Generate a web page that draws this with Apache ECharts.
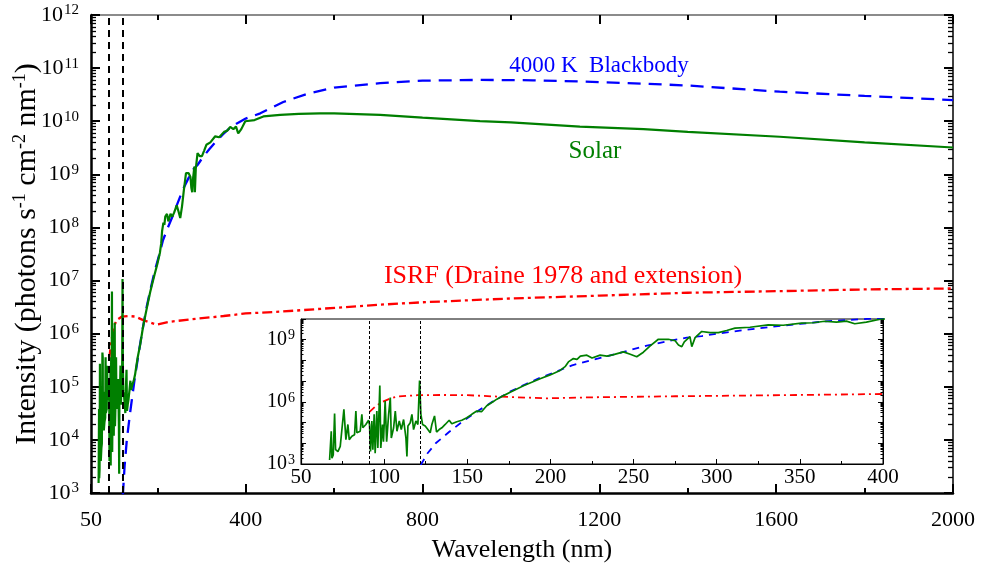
<!DOCTYPE html>
<html>
<head>
<meta charset="utf-8">
<script src="https://cdn.jsdelivr.net/npm/echarts@6/dist/echarts.min.js"></script>
<style>
  html, body { margin: 0; padding: 0; background: #fff; }
  #chart { width: 981px; height: 574px; }
</style>
</head>
<body>
<div id="chart"></div>
<script>
// Solar photon spectrum (nm, photons s^-1 cm^-2 nm^-1)
const solarWl = [67.2, 68.2, 68.6, 69.4, 70.2, 70.8, 72.2, 73.6, 74.6, 75.8, 76.6, 77.0, 78.2, 79.0, 80.6, 82.2,
  83.0, 83.6, 85.6, 86.6, 87.2, 89.0, 90.6, 91.2, 91.8, 92.6, 93.2, 94.0, 94.6, 95.6, 96.2, 97.4, 98.0, 99.0,
  99.6, 100.6, 101.5, 102.7, 103.7, 104.3, 105.7, 106.7, 107.7, 109.1, 110.3, 111.7, 113.1, 113.7, 114.3,
  115.7, 116.7, 117.7, 119.1, 120.3, 121.3, 122.1, 123.1, 124.7, 126.3, 127.7, 128.7, 130.3, 131.5, 133.1,
  134.7, 136.7, 139.1, 140.7, 143.7, 146.7, 149.7, 152.7, 155.7, 158.7, 161.7, 165.7, 167.8, 171.8, 175.8,
  179.8, 183.8, 188.8, 193.8, 199.8, 205.8, 208.8, 210.8, 213.8, 216, 218, 221.9, 225, 229.9, 234, 238, 243.9,
  248, 251.9, 255.9, 260, 264.9, 270.9, 275, 277, 279, 280.5, 283.9, 285, 287, 291, 296, 301, 306, 311, 320,
  331, 340, 351, 358, 365, 372, 378, 383, 390, 399, 420, 440, 478, 520, 568, 600, 704, 800, 930, 1000, 1156,
  1300, 1400, 1608, 1800, 2000];
const solarI = [1.55e3, 3.8e4, 1.9e3, 2.75e3, 2.7e5, 4.9e3, 4.0e3, 7.1e3, 8.5e3, 4.4e5, 3.6e5, 1.5e4, 8.1e4, 1.5e4, 2.2e4, 2.6e4,
  3.6e5, 3.2e4, 3.8e4, 2.5e5, 5.6e4, 8.1e4, 1.3e5, 8.1e4, 4.0e3, 1.2e5, 4.9e3, 2.5e5, 3.3e3, 3.6e5, 5.9e3, 6.2e6, 5.9e3, 8.1e4,
  1.2e4, 1.1e6, 1.2e4, 2.5e5, 1.6e6, 1.8e4, 5.6e4, 3.6e5, 3.8e4, 1.2e5, 4.6e4, 1.4e5, 1.8e4, 2.3e3, 6.8e4,
  9.8e4, 2.5e5, 4.6e4, 1.2e5, 8.1e4, 1.07e7, 2.5e5, 8.1e4, 6.8e4, 4.6e4, 3.2e4, 8.1e4, 2.1e5, 3.5e4, 4.6e4,
  5.6e4, 8.1e4, 1.3e5, 8.7e4, 1.1e5, 1.3e5, 1.7e5, 2.5e5, 3.6e5, 3.4e5, 6.5e5, 1.05e6, 1.35e6, 2.0e6, 2.9e6,
  4.2e6, 6.0e6, 8.9e6, 1.3e7, 2.0e7, 3.3e7, 5.0e7, 8.5e7, 1.23e8, 1.12e8, 1.6e8, 1.8e8, 1.3e8, 1.8e8, 1.6e8, 1.9e8, 2.6e8,
  2.0e8, 1.5e8, 2.5e8, 5.0e8, 1.05e9, 1.05e9, 8.9e8, 5.6e8, 4.6e8, 7.9e8, 1.4e9, 4.6e8, 1.26e9, 2.5e9, 2.2e9, 2.2e9, 2.8e9, 3.6e9, 4.0e9,
  5.2e9, 5.0e9, 6.3e9, 6.6e9, 7.8e9, 7.1e9, 7.9e9, 5.9e9, 7.1e9, 1.0e10, 1.05e10, 1.23e10, 1.32e10, 1.38e10, 1.41e10, 1.41e10, 1.32e10, 1.17e10, 1.0e10, 9.5e9, 7.9e9,
  7.1e9, 6.3e9, 5.1e9, 4.0e9, 3.2e9];

// 4000 K blackbody photon spectrum
const bbWl = [122, 126, 131, 139, 148, 157, 165, 176, 185, 194, 204, 213, 224, 235, 244, 258, 270, 282, 291, 303,
  318, 333, 350, 365, 380, 400, 433, 485, 540, 600, 704, 800, 930, 1050, 1156, 1300, 1400, 1608, 1800, 2000];
const bbI = [8.9e2, 3.2e3, 1.0e4, 3.5e4, 1.26e5, 3.9e5, 1.0e6, 3.2e6, 7.1e6, 1.48e7, 3.0e7, 5.8e7, 1.0e8, 1.66e8, 2.6e8, 5.2e8, 8.3e8, 1.26e9, 1.5e9, 2.1e9,
  3.0e9, 4.2e9, 5.8e9, 7.6e9, 9.1e9, 1.12e10, 1.41e10, 2.3e10, 3.3e10, 4.3e10, 5.2e10, 5.8e10, 6.0e10, 5.9e10, 5.6e10, 5.1e10, 4.7e10, 3.6e10, 3.0e10, 2.5e10];

// Interstellar radiation field (Draine 1978 and extension)
const isrfWl = [91.2, 95, 99, 104, 108, 120, 135, 150, 168, 198, 225, 275, 350, 400, 480, 560, 700, 800, 1000, 1200, 1400, 1600, 1800, 2000];
const isrfI = [3.3e5, 6.3e5, 1.0e6, 1.5e6, 1.8e6, 2.1e6, 2.15e6, 2.1e6, 1.8e6, 1.48e6, 1.66e6, 1.86e6, 2.15e6, 2.4e6, 2.6e6, 2.9e6, 3.5e6, 3.9e6, 4.6e6, 5.2e6, 5.9e6, 6.3e6, 6.8e6, 7.1e6];

// Lyman limit and Lyman-alpha
const edgeWl = [91.2, 121.6];

// Tick values
const mainXMajor = [50, 400, 800, 1200, 1600, 2000];
const mainXMinor = [200, 600, 1000, 1400, 1800];

const FONT = "'Liberation Serif', 'Times New Roman', serif";
const pairs = (xs, ys) => xs.map((x, i) => [x, ys[i]]);

// minor log ticks (2..9 x 10^n) expressed in decades for overlay tick axes
function minorDecades(lo, hi) {
  const out = [];
  for (let n = lo; n < hi; n++) for (let k = 2; k <= 9; k++) out.push(n + Math.log10(k));
  return out;
}

const powRichMain = {
  b: { fontSize: 22, fontFamily: FONT, color: '#000', lineHeight: 24 },
  s: { fontSize: 15, fontFamily: FONT, color: '#000', verticalAlign: 'top', padding: [0, 0, 0, 1] }
};
const powRichInset = {
  b: { fontSize: 20, fontFamily: FONT, color: '#000', lineHeight: 22 },
  s: { fontSize: 14, fontFamily: FONT, color: '#000', verticalAlign: 'top', padding: [0, 0, 0, 1] }
};
const powLabel = v => '{b|10}{s|' + Math.round(Math.log10(v)) + '}';
const plainNum = v => String(v);

const GRID_MAIN = 0, GRID_INSET = 1;

const chart = echarts.init(document.getElementById('chart'), null, { renderer: 'canvas' });

const option = {
  animation: false,
  backgroundColor: '#fff',
  grid: [
    { left: 91, top: 15, width: 862, height: 478, containLabel: false, outerBoundsMode: 'none' },
    { left: 301, top: 319, width: 582, height: 145, show: true, backgroundColor: '#fff', borderColor: '#000', borderWidth: 1, containLabel: false, outerBoundsMode: 'none' }
  ],
  xAxis: [
    { // 0: main bottom, majors + labels
      gridIndex: GRID_MAIN, type: 'value', position: 'bottom', min: 50, max: 2000,
      name: 'Wavelength (nm)', nameLocation: 'middle', nameGap: 44, nameMoveOverlap: false,
      nameTextStyle: { fontFamily: FONT, fontSize: 26, color: '#000' },
      axisLine: { show: true, onZero: false, lineStyle: { color: '#000', width: 2.5 } },
      axisTick: { show: true, inside: true, length: 9, lineStyle: { color: '#000', width: 2 }, customValues: mainXMajor },
      axisLabel: { show: true, margin: 16, fontFamily: FONT, fontSize: 22, color: '#000', customValues: mainXMajor, formatter: plainNum },
      splitLine: { show: false }
    },
    { // 1: main bottom minors
      gridIndex: GRID_MAIN, type: 'value', position: 'bottom', min: 50, max: 2000,
      axisLine: { show: false },
      axisTick: { show: true, inside: true, length: 5, lineStyle: { color: '#000', width: 2 }, customValues: mainXMinor },
      axisLabel: { show: false }, splitLine: { show: false }
    },
    { // 2: main top, majors
      gridIndex: GRID_MAIN, type: 'value', position: 'top', min: 50, max: 2000,
      axisLine: { show: true, onZero: false, lineStyle: { color: '#666', width: 1.5 } },
      axisTick: { show: true, inside: true, length: 9, lineStyle: { color: '#000', width: 2 }, customValues: mainXMajor },
      axisLabel: { show: false }, splitLine: { show: false }
    },
    { // 3: main top minors
      gridIndex: GRID_MAIN, type: 'value', position: 'top', min: 50, max: 2000,
      axisLine: { show: false },
      axisTick: { show: true, inside: true, length: 5, lineStyle: { color: '#000', width: 2 }, customValues: mainXMinor },
      axisLabel: { show: false }, splitLine: { show: false }
    },
    { // 4: inset bottom
      gridIndex: GRID_INSET, type: 'value', position: 'bottom', min: 50, max: 400, interval: 50,
      axisLine: { show: true, onZero: false, lineStyle: { color: '#000', width: 1.2 } },
      axisTick: { show: true, inside: true, length: 5, lineStyle: { color: '#000', width: 1 } },
      minorTick: { show: true, splitNumber: 2, length: 3, lineStyle: { color: '#000', width: 1 } },
      axisLabel: { show: true, margin: 3, fontFamily: FONT, fontSize: 21, color: '#000', formatter: plainNum },
      splitLine: { show: false }
    }
  ],
  yAxis: [
    { // 0: main left, log scale + labels
      gridIndex: GRID_MAIN, type: 'log', logBase: 10, position: 'left', min: 1e3, max: 1e12,
      name: 'Intensity (photons s{sup|-1} cm{sup|-2} nm{sup|-1})', nameLocation: 'middle', nameGap: 47, nameRotate: 90,
      nameMoveOverlap: false,
      nameTextStyle: {
        fontFamily: FONT, fontSize: 30, color: '#000', lineHeight: 33,
        rich: { sup: { fontFamily: FONT, fontSize: 18, color: '#000', verticalAlign: 'top' } }
      },
      axisLine: { show: true, onZero: false, lineStyle: { color: '#000', width: 2.5 } },
      axisTick: { show: true, inside: true, length: 9, lineStyle: { color: '#000', width: 2 } },
      axisLabel: { show: true, margin: 12, formatter: powLabel, rich: powRichMain },
      splitLine: { show: false }, minorTick: { show: false }
    },
    { // 1: main left minors
      gridIndex: GRID_MAIN, type: 'value', position: 'left', min: 3, max: 12,
      axisLine: { show: false },
      axisTick: { show: true, inside: true, length: 5, lineStyle: { color: '#000', width: 1.3 }, customValues: minorDecades(3, 12) },
      axisLabel: { show: false }, splitLine: { show: false }
    },
    { // 2: main right
      gridIndex: GRID_MAIN, type: 'log', logBase: 10, position: 'right', min: 1e3, max: 1e12,
      axisLine: { show: true, onZero: false, lineStyle: { color: '#000', width: 1.5 } },
      axisTick: { show: true, inside: true, length: 9, lineStyle: { color: '#000', width: 2 } },
      axisLabel: { show: false }, splitLine: { show: false }
    },
    { // 3: main right minors
      gridIndex: GRID_MAIN, type: 'value', position: 'right', min: 3, max: 12,
      axisLine: { show: false },
      axisTick: { show: true, inside: true, length: 5, lineStyle: { color: '#000', width: 1.3 }, customValues: minorDecades(3, 12) },
      axisLabel: { show: false }, splitLine: { show: false }
    },
    { // 4: inset left, log scale + labels
      gridIndex: GRID_INSET, type: 'log', logBase: 10, position: 'left', min: 1e3, max: 1e10,
      axisLine: { show: true, onZero: false, lineStyle: { color: '#000', width: 1.2 } },
      axisTick: { show: true, inside: true, length: 5, lineStyle: { color: '#000', width: 1 } },
      axisLabel: {
        show: true, margin: 6, rich: powRichInset,
        formatter: v => (Math.round(Math.log10(v)) % 3 === 0 ? powLabel(v) : '')
      },
      splitLine: { show: false }
    },
    { // 5: inset left minors
      gridIndex: GRID_INSET, type: 'value', position: 'left', min: 3, max: 10,
      axisLine: { show: false },
      axisTick: { show: true, inside: true, length: 2.5, lineStyle: { color: '#000', width: 1 }, customValues: minorDecades(3, 10) },
      axisLabel: { show: false }, splitLine: { show: false }
    },
    { // 6: inset right
      gridIndex: GRID_INSET, type: 'log', logBase: 10, position: 'right', min: 1e3, max: 1e10,
      axisLine: { show: true, onZero: false, lineStyle: { color: '#000', width: 1 } },
      axisTick: { show: true, inside: true, length: 5, lineStyle: { color: '#000', width: 1 } },
      axisLabel: { show: false }, splitLine: { show: false }
    },
    { // 7: inset right minors
      gridIndex: GRID_INSET, type: 'value', position: 'right', min: 3, max: 10,
      axisLine: { show: false },
      axisTick: { show: true, inside: true, length: 2.5, lineStyle: { color: '#000', width: 1 }, customValues: minorDecades(3, 10) },
      axisLabel: { show: false }, splitLine: { show: false }
    }
  ],
  series: [
    // main panel
    {
      type: 'line', name: '4000 K Blackbody', xAxisIndex: 0, yAxisIndex: 0, data: pairs(bbWl, bbI),
      showSymbol: false, symbol: 'none', clip: true, z: 3, emphasis: { disabled: true },
      lineStyle: { color: '#0000ff', width: 2.3, type: [13, 8] }
    },
    {
      type: 'line', name: 'ISRF', xAxisIndex: 0, yAxisIndex: 0, data: pairs(isrfWl, isrfI),
      showSymbol: false, symbol: 'none', clip: true, z: 3, emphasis: { disabled: true },
      lineStyle: { color: '#ff0000', width: 2.3, type: [10, 4, 3, 4] }
    },
    {
      type: 'line', name: 'Solar', xAxisIndex: 0, yAxisIndex: 0, data: pairs(solarWl, solarI),
      showSymbol: false, symbol: 'none', clip: true, z: 4, emphasis: { disabled: true },
      lineStyle: { color: '#007f00', width: 2.2 },
      markLine: {
        silent: true, symbol: ['none', 'none'], animation: false, z: 6,
        label: { show: false },
        lineStyle: { color: '#000', type: [7, 5], width: 2 },
        emphasis: { disabled: true },
        data: edgeWl.map(v => ({ xAxis: v }))
      }
    },
    // inset panel
    {
      type: 'line', name: '4000 K Blackbody (inset)', xAxisIndex: 4, yAxisIndex: 4, data: pairs(bbWl, bbI),
      showSymbol: false, symbol: 'none', clip: true, z: 3, emphasis: { disabled: true },
      lineStyle: { color: '#0000ff', width: 1.8, type: [7, 6] }
    },
    {
      type: 'line', name: 'ISRF (inset)', xAxisIndex: 4, yAxisIndex: 4, data: pairs(isrfWl, isrfI),
      showSymbol: false, symbol: 'none', clip: true, z: 3, emphasis: { disabled: true },
      lineStyle: { color: '#ff0000', width: 1.8, type: [7, 4, 2, 4] }
    },
    {
      type: 'line', name: 'Solar (inset)', xAxisIndex: 4, yAxisIndex: 4, data: pairs(solarWl, solarI),
      showSymbol: false, symbol: 'none', clip: true, z: 4, emphasis: { disabled: true },
      lineStyle: { color: '#007f00', width: 1.7 },
      markLine: {
        silent: true, symbol: ['none', 'none'], animation: false, z: 6,
        label: { show: false },
        lineStyle: { color: '#000', type: [3, 2], width: 1 },
        emphasis: { disabled: true },
        data: edgeWl.map(v => ({ xAxis: v }))
      }
    }
  ],
  graphic: [
    { type: 'text', x: 599, y: 66, z: 10, style: { text: '4000 K  Blackbody', fill: '#0000ff', font: '23px ' + FONT, textAlign: 'center', textVerticalAlign: 'middle' } },
    { type: 'text', x: 595, y: 151, z: 10, style: { text: 'Solar', fill: '#007f00', font: '25px ' + FONT, textAlign: 'center', textVerticalAlign: 'middle' } },
    { type: 'text', x: 563, y: 276, z: 10, style: { text: 'ISRF (Draine 1978 and extension)', fill: '#ff0000', font: '26px ' + FONT, textAlign: 'center', textVerticalAlign: 'middle' } }
  ]
};

chart.setOption(option);
</script>
</body>
</html>
